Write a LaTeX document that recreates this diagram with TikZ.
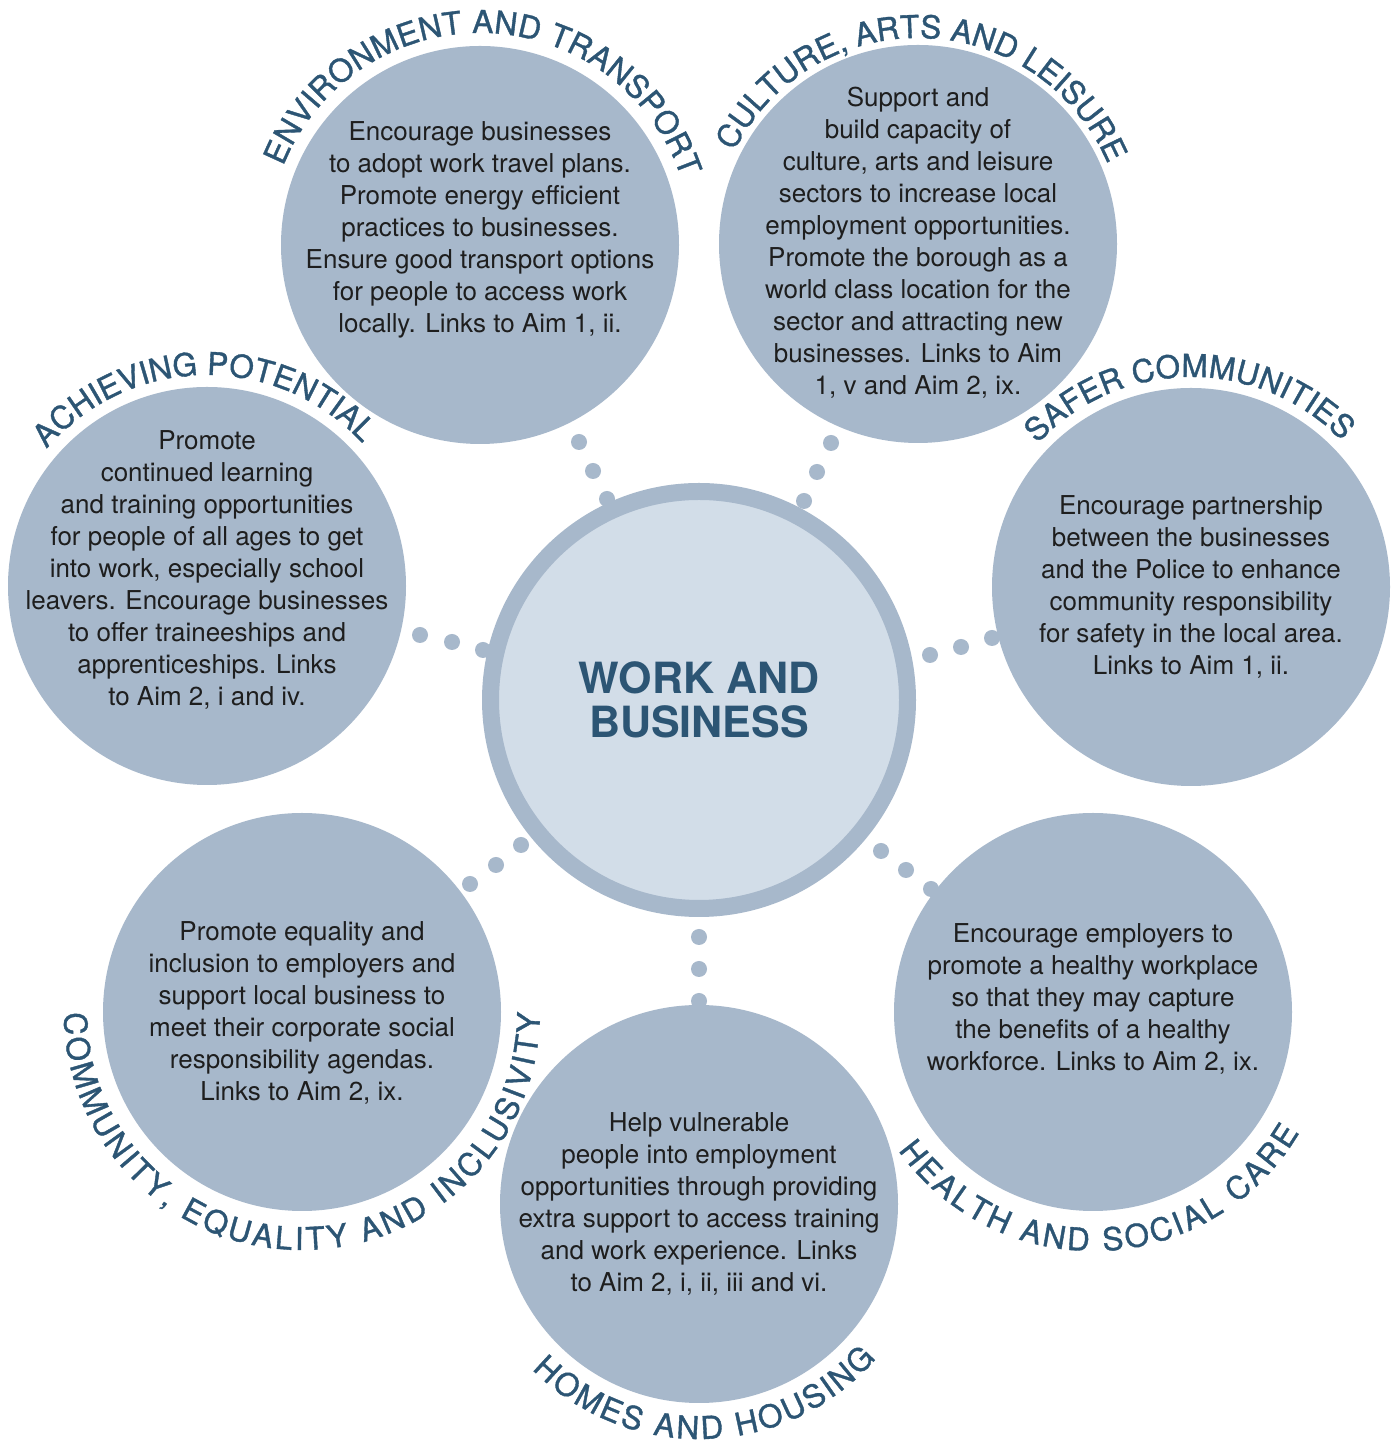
\documentclass[tikz,border=0pt]{standalone}
\usepackage{fontspec}
\setmainfont{TeX Gyre Heros}
\newfontfamily\lblfam{TeX Gyre Heros}[FakeBold=1.2]
\usetikzlibrary{decorations.text}
\definecolor{satcol}{HTML}{A7B8CB}
\definecolor{hubfill}{HTML}{D2DDE8}
\definecolor{labcol}{HTML}{2C5574}
\definecolor{bodycol}{HTML}{1E1E1E}
\newcommand{\bodyfont}{\fontsize{26}{32}\selectfont}
\newcommand{\lblfont}{\lblfam\fontsize{31.5}{36}\selectfont}
\newcommand{\hubfont}{\fontsize{43}{43.5}\selectfont\bfseries}
\begin{document}
\begin{tikzpicture}[x=1pt,y=1pt,
  sat/.style={circle, fill=satcol, minimum size=398pt, inner sep=0pt},
  hubstyle/.style={circle, draw=satcol, line width=17pt, fill=hubfill, minimum size=417pt, inner sep=0pt, align=center, font=\hubfont, text=labcol},
  body/.style={align=center, font=\bodyfont, text=bodycol, inner sep=0pt},
  linkdot/.style={fill=satcol},
  arclabel/.style={decoration={text along path, text align={fit to path}}, decorate}
]
\fill[white] (0,0) rectangle (1399,1443);
\useasboundingbox (0,0) rectangle (1399,1443);

% circle centres
\coordinate (cEnv) at (480,1198);
\coordinate (cCul) at (918,1199);
\coordinate (cSaf) at (1191,856);
\coordinate (cAch) at (207,857);
\coordinate (cCom) at (302,431);
\coordinate (cHom) at (699,239);
\coordinate (cHea) at (1093,431);

% satellites
\node[sat] (env) at (cEnv) {};
\node[sat] (cul) at (cCul) {};
\node[sat] (saf) at (cSaf) {};
\node[sat] (ach) at (cAch) {};
\node[sat] (com) at (cCom) {};
\node[sat] (hom) at (cHom) {};
\node[sat] (hea) at (cHea) {};

% hub
\node[hubstyle] (hub) at (699,743) {WORK AND\\BUSINESS};

% linking dots
\foreach \x/\y in {579/1001, 593/972, 607/944,
                   831/1000, 817/971, 804/942,
                   992/805, 961/796, 930/788,
                   420/808, 452/801, 483/793,
                   521/598, 496/578, 470/559,
                   699/506, 699/474, 699/442,
                   881/592, 906/573, 931/554}
  \fill[linkdot] (\x,\y) circle (8pt);

% body texts
\node[body] (envtxt) at (480,1213.2) {\strut Encourage businesses\\to adopt work travel plans.\\Promote energy efficient\\practices to businesses.\\Ensure good transport options\\for people to access work\\locally. Links to Aim 1, ii.\strut};
\node[body] (cultxt) at (918,1198.7) {\strut Support and\\build capacity of\\culture, arts and leisure\\sectors to increase local\\employment opportunities.\\Promote the borough as a\\world class location for the\\sector and attracting new\\businesses. Links to Aim\\1, v and Aim 2, ix.\strut};
\node[body] (saftxt) at (1191,855.2) {\strut Encourage partnership\\between the businesses\\and the Police to enhance\\community responsibility\\for safety in the local area.\\Links to Aim 1, ii.\strut};
\node[body] (achtxt) at (207,872.2) {\strut Promote\\continued learning\\and training opportunities\\for people of all ages to get\\into work, especially school\\leavers. Encourage businesses\\to offer traineeships and\\apprenticeships. Links\\to Aim 2, i and iv.\strut};
\node[body] (comtxt) at (302,429.2) {\strut Promote equality and\\inclusion to employers and\\support local business to\\meet their corporate social\\responsibility agendas.\\Links to Aim 2, ix.\strut};
\node[body] (homtxt) at (699,238.2) {\strut Help vulnerable\\people into employment\\opportunities through providing\\extra support to access training\\and work experience. Links\\to Aim 2, i, ii, iii and vi.\strut};
\node[body] (heatxt) at (1093,443.2) {\strut Encourage employers to\\promote a healthy workplace\\so that they may capture\\the benefits of a healthy\\workforce. Links to Aim 2, ix.\strut};

% curved labels
\path[arclabel, decoration={text={|\lblfont\color{labcol}|ENVIRONMENT AND TRANSPORT}}]
  (cEnv) ++(158.2:212pt) arc[start angle=158.2, end angle=18.5, radius=212pt];
\path[arclabel, decoration={text={|\lblfont\color{labcol}|CULTURE, ARTS AND LEISURE}}]
  (cCul) ++(153.3:206pt) arc[start angle=153.3, end angle=24.7, radius=206pt];
\path[arclabel, decoration={text={|\lblfont\color{labcol}|SAFER COMMUNITIES}}]
  (cSaf) ++(137:210pt) arc[start angle=137, end angle=44, radius=210pt];
\path[arclabel, decoration={text={|\lblfont\color{labcol}|ACHIEVING POTENTIAL}}]
  (cAch) ++(139.5:211pt) arc[start angle=139.5, end angle=43.3, radius=211pt];
\path[arclabel, decoration={text={|\lblfont\color{labcol}|COMMUNITY, EQUALITY AND INCLUSIVITY}}]
  (cCom) ++(180.2:238pt) arc[start angle=180.2, end angle=359.8, radius=238pt];
\path[arclabel, decoration={text={|\lblfont\color{labcol}|HEALTH AND SOCIAL CARE}}]
  (cHea) ++(215.4:239pt) arc[start angle=215.4, end angle=329.7, radius=239pt];
\path[arclabel, decoration={text={|\lblfont\color{labcol}|HOMES AND HOUSING}}]
  (cHom) ++(224.7:235pt) arc[start angle=224.7, end angle=318.9, radius=235pt];
\end{tikzpicture}
\end{document}
